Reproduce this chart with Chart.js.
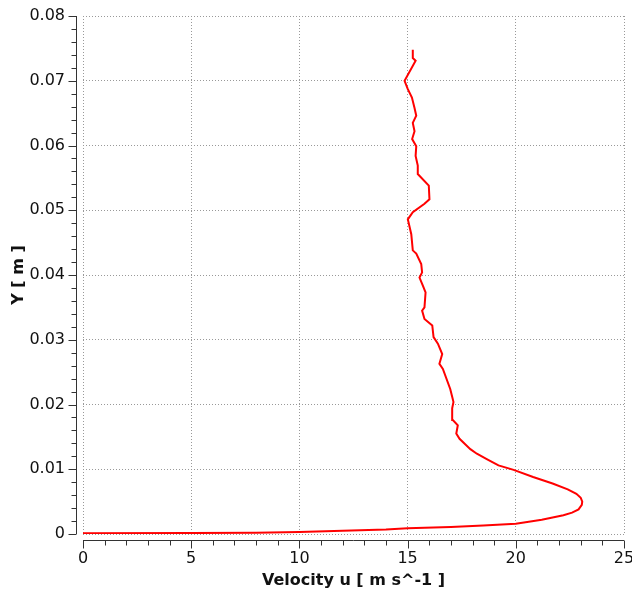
<!DOCTYPE html>
<html>
<head>
<meta charset="utf-8">
<script src="https://cdn.jsdelivr.net/npm/chart.js@4"></script>
<style>
  html, body { margin: 0; padding: 0; background: #fff; }
  #wrap { width: 632px; height: 592px; }
</style>
</head>
<body>
<div id="wrap"><canvas id="profile" width="632" height="592"></canvas></div>
<script>
// velocity profile, bottom to top
const velocity = [0, 5, 8, 10, 12, 14, 15, 17, 18.5, 20, 21.2, 22.2, 22.6, 22.9, 23.05, 23.07, 23.0, 22.8,
  22.4, 21.7, 20.8, 19.9, 19.2, 18.7, 18.2,
  17.9, 17.4, 17.25, 17.32, 17.09, 17.06, 17.12, 17.06, 16.97, 16.63, 16.47, 16.6, 16.4, 16.2, 16.14,
  15.78, 15.67, 15.78, 15.83, 15.7, 15.55, 15.67, 15.63, 15.4, 15.24, 15.17, 15.01, 15.24, 15.78, 16.01,
  15.98, 15.47, 15.47, 15.37, 15.4, 15.21, 15.32, 15.24, 15.4, 15.32, 15.2, 15.01, 14.86, 15.37, 15.24, 15.24]
const height = [0.0001, 0.00015, 0.0002, 0.0003, 0.0005, 0.0007, 0.0009, 0.0011, 0.0013, 0.0016, 0.0022,
  0.0029, 0.0033, 0.0038, 0.0045, 0.005, 0.0056, 0.0062, 0.0069, 0.0078, 0.0088, 0.0099, 0.0106, 0.0115, 0.0124,
  0.0131, 0.0147, 0.0155, 0.0168, 0.0176, 0.0194,
  0.0204, 0.0212, 0.0224, 0.0255, 0.0263, 0.0278, 0.0294, 0.0304, 0.0322, 0.0332, 0.0345, 0.035, 0.0373,
  0.0384, 0.0396, 0.0404, 0.0417, 0.0433, 0.0438, 0.0463, 0.0486, 0.0497, 0.051, 0.0517, 0.0538, 0.0556,
  0.0569, 0.0584, 0.0599, 0.061, 0.0622, 0.0635, 0.0646, 0.0658, 0.0674, 0.0687, 0.07, 0.0731, 0.0735, 0.0748]

const xTitle = 'Velocity u [ m s^-1 ]'
const yTitle = 'Y [ m ]'

const font = 'DejaVu Sans'

// offset axis lines with major / minor ticks, like the original plot
const axisDecor = {
  id: 'axisDecor',
  afterDraw(chart) {
    const { ctx, chartArea: a, scales: { x, y } } = chart
    const ax = a.left - 6.5
    const ay = a.bottom + 6.5
    ctx.save()
    ctx.strokeStyle = '#333'
    ctx.lineWidth = 1
    ctx.beginPath()
    ctx.moveTo(ax, a.top)
    ctx.lineTo(ax, a.bottom)
    ctx.moveTo(a.left, ay)
    ctx.lineTo(a.right, ay)
    for (let i = 0; i <= 25; i++) {
      const px = Math.round(x.getPixelForValue(i)) + 0.5
      ctx.moveTo(px, ay)
      ctx.lineTo(px, ay + (i % 5 === 0 ? 8 : 5))
    }
    for (let i = 0; i <= 40; i++) {
      const py = Math.round(y.getPixelForValue(i * 0.002)) + 0.5
      ctx.moveTo(ax, py)
      ctx.lineTo(ax - (i % 5 === 0 ? 8 : 5), py)
    }
    ctx.stroke()
    ctx.restore()
  }
}

const noPad = (s) => {
  s.paddingLeft = 0
  s.paddingRight = 0
  s.paddingTop = 0
  s.paddingBottom = 0
}

new Chart(document.getElementById('profile'), {
  type: 'scatter',
  data: {
    datasets: [{
      data: velocity.map((v, i) => ({ x: v, y: height[i] })),
      showLine: true,
      borderColor: 'rgb(255, 0, 0)',
      borderWidth: 2,
      pointRadius: 0,
      tension: 0,
    }]
  },
  options: {
    responsive: false,
    animation: false,
    layout: { padding: { top: 16, right: 8, left: 0, bottom: 0 } },
    plugins: { legend: { display: false }, tooltip: { enabled: false } },
    scales: {
      x: {
        min: 0,
        max: 25,
        afterFit: (s) => { s.height = 58; noPad(s) },
        ticks: { stepSize: 5, color: '#111', padding: 15, font: { family: font, size: 16 } },
        grid: { color: '#999', drawTicks: false },
        border: { display: false, dash: [1, 2] },
        title: { display: true, text: xTitle, color: '#111', padding: { top: 0, bottom: 2 }, font: { family: font, size: 16, weight: 'bold' } },
      },
      y: {
        min: 0,
        max: 0.08,
        afterFit: (s) => { s.width = 83; noPad(s) },
        ticks: { stepSize: 0.01, color: '#111', padding: 18, font: { family: font, size: 16 } },
        grid: { color: '#999', drawTicks: false },
        border: { display: false, dash: [1, 2] },
        title: { display: true, text: yTitle, color: '#111', padding: { top: 9, bottom: 0 }, font: { family: font, size: 16, weight: 'bold' } },
      }
    }
  },
  plugins: [axisDecor]
})
</script>
</body>
</html>
